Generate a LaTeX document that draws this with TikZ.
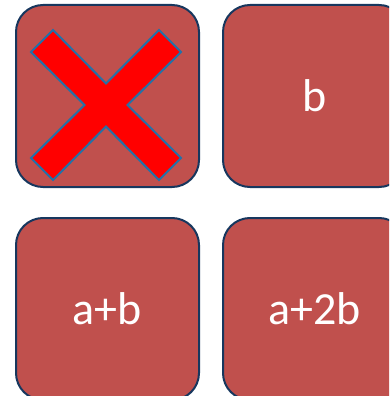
\documentclass[tikz,border=0pt]{standalone}
\usepackage{fontspec}
\setmainfont{Carlito}
\usetikzlibrary{positioning}
\definecolor{TileRed}{HTML}{C0504D}
\definecolor{TileEdge}{HTML}{17375E}
\definecolor{CrossRed}{HTML}{FF0000}
\definecolor{CrossEdge}{HTML}{2371A8}
\tikzset{
  % Tile
  TL/.style={rectangle,rounded corners=27pt,
             minimum width=183pt,minimum height=182pt,
             draw=TileEdge,fill=TileRed,line width=2pt,inner sep=0pt,
             text=white,font=\fontsize{46}{50}\selectfont},
  % Cross
  XX/.style={fill=CrossRed,draw=CrossEdge,line width=2pt,line join=miter}
}
\begin{document}
\begin{tikzpicture}[x=1pt,y=-1pt,node distance=29pt and 22pt]
  \useasboundingbox (0,0) rectangle (389,396);
  \clip (0,0) rectangle (389,396);
  \node[TL] (tileA) at (107.5,96) {};
  \node[TL,right=of tileA] (tileB) {b};
  \node[TL,below=of tileA] (tileAB) {a+b};
  \node[TL,below=of tileB] (tileAtwoB) {a+2b};
  % crossed-out tile
  \begin{scope}[shift={(tileA.center)},shift={(-1.5,9)}]
    \draw[XX] (-75,-53) -- (-53,-75) -- (0,-21.5) -- (53,-75) -- (75,-53)
      -- (21.5,0) -- (75,53) -- (53,75) -- (0,21.5) -- (-53,75)
      -- (-75,53) -- (-21.5,0) -- cycle;
  \end{scope}
\end{tikzpicture}
\end{document}
